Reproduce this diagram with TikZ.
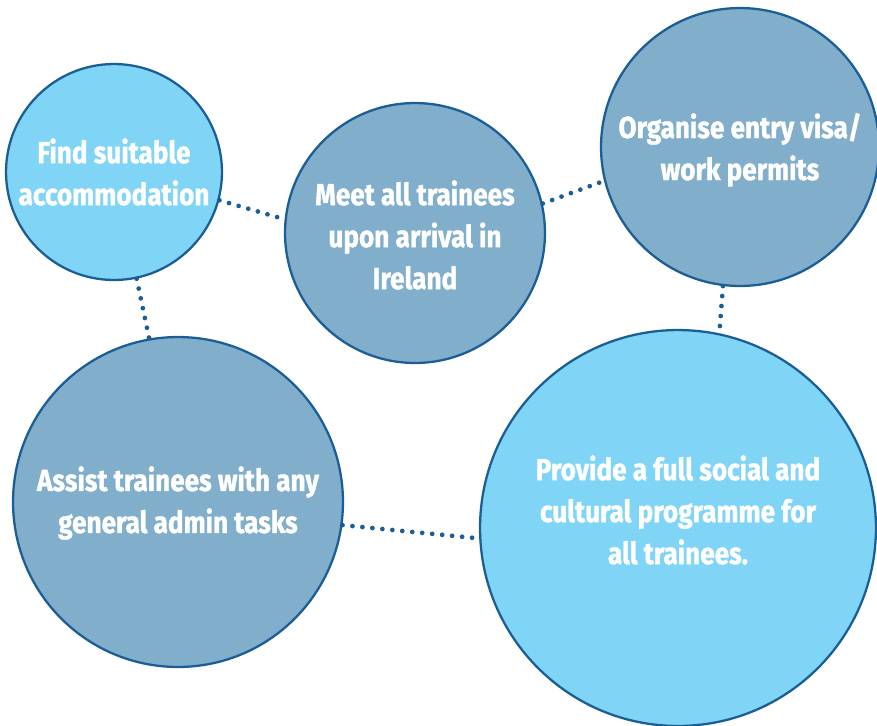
\documentclass[tikz,border=0pt]{standalone}
\usepackage{fontspec}
\setmainfont[FakeStretch=0.86,FakeBold=1.2]{Fira Sans}
\usepackage{xcolor}
\definecolor{lightbub}{HTML}{80D5F6}
\definecolor{darkbub}{HTML}{80AECB}
\definecolor{rim}{HTML}{1B5E95}

\begin{document}
\begin{tikzpicture}[x=0.02cm,y=-0.02cm,
  bubble/.style={circle, draw=rim, line width=1.3pt, inner sep=0pt},
  txt/.style={text=white, font=\bfseries\fontsize{17.3}{23.9}\selectfont, align=center},
  dots/.style={rim, line width=2.7pt, line cap=round, dash pattern=on 0pt off 5.7pt}]
\useasboundingbox (0,0) rectangle (877,725);
\node[bubble, fill=lightbub, minimum size=4.32cm] (Accom) at (114,172) {};
\node[bubble, fill=darkbub, minimum size=5.2cm] (Meet) at (415,233) {};
\node[bubble, fill=darkbub, minimum size=5.56cm] (Visa) at (740,147) {};
\node[bubble, fill=darkbub, minimum size=6.6cm] (Admin) at (178,502) {};
\node[bubble, fill=lightbub, minimum size=7.92cm] (Social) at (678,528) {};
\node[txt] (AccomText) at (114,172) {Find suitable\\accommodation};
\node[txt] (MeetText) at (415,235) {Meet all trainees\\upon arrival in\\Ireland};
\node[txt] (VisaText) at (740,150) {Organise entry visa/\\work permits};
\node[txt] (AdminText) at (178,503) {Assist trainees with any\\general admin tasks};
\node[txt] (SocialText) at (678,510) {Provide a full social and\\cultural programme for\\all trainees.};
\draw[dots] (Accom.-15.7) -- (Meet.174.4);
\draw[dots] (Meet.13) -- (Visa.-166);
\draw[dots] (Visa.-97) -- (Social.78.7);
\draw[dots] (Accom.-78) -- (Admin.100.7);
\draw[dots] (Admin.-8.6) -- (Social.-177.4);
\end{tikzpicture}
\end{document}
